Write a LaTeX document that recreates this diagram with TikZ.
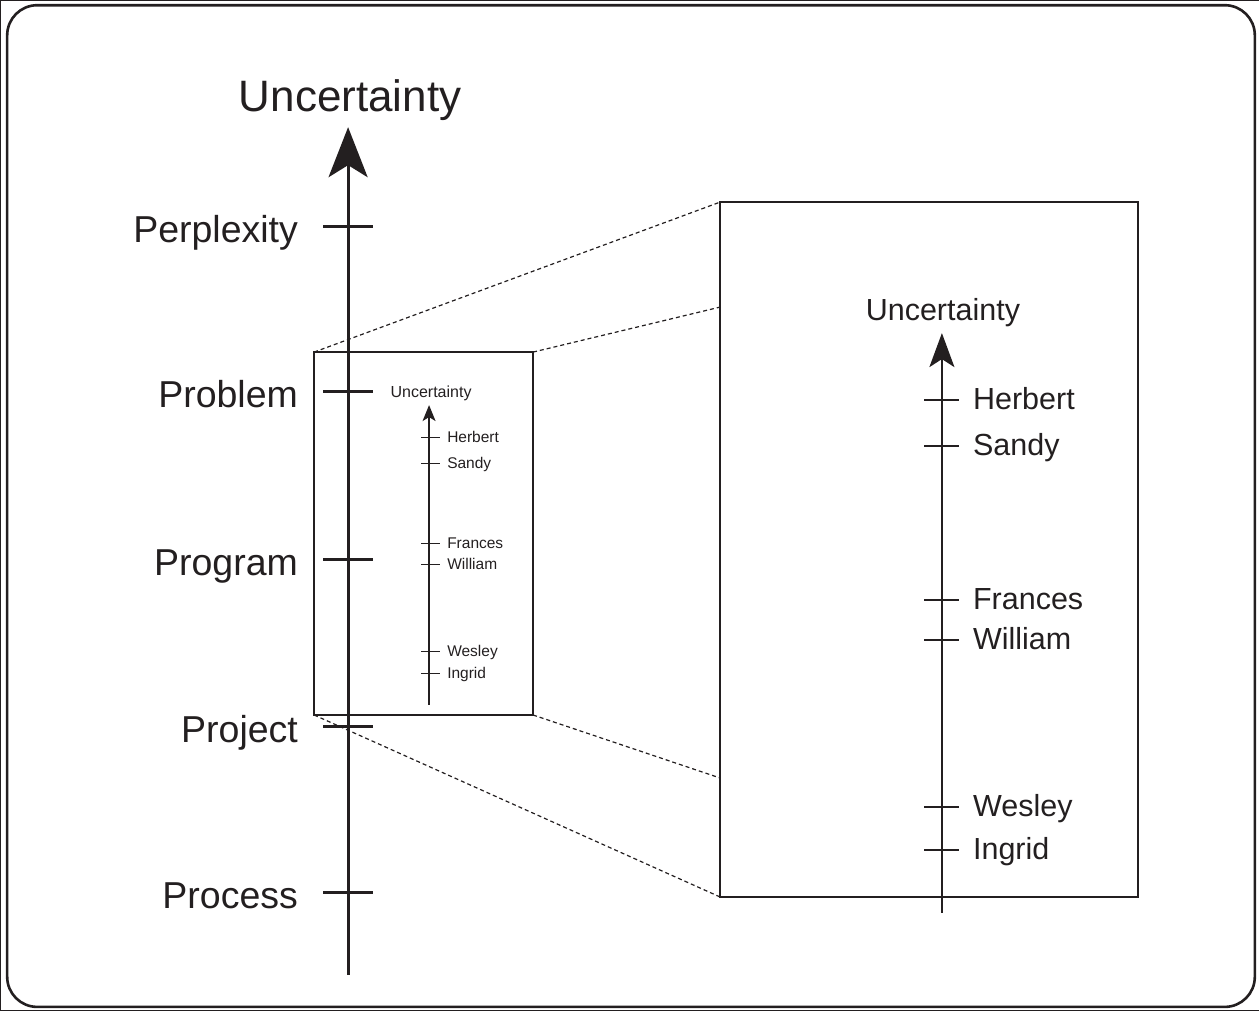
\documentclass[tikz,border=0pt]{standalone}
\usepackage{fontspec}
\setmainfont{Liberation Sans}
\usetikzlibrary{arrows.meta}
\definecolor{ink}{HTML}{231F20}
\begin{document}
\begin{tikzpicture}[x=1pt,y=-1pt, every path/.style={draw=ink}, every node/.style={text=ink},
  frame/.style={line width=2.6pt, rounded corners=30pt},
  bigaxis/.style={line width=3pt, -{Stealth[length=50pt,width=39pt,inset=12pt,fill=ink]}},
  bigtick/.style={line width=3pt},
  biglabel/.style={anchor=base east, inner sep=0pt, font=\fontsize{37.5}{40}\selectfont},
  bigtitle/.style={anchor=base, inner sep=0pt, font=\fontsize{44}{48}\selectfont},
  smallaxis/.style={line width=1.3pt, -{Stealth[length=16pt,width=13pt,inset=4pt,fill=ink]}},
  smalltick/.style={line width=1pt},
  smalllabel/.style={anchor=base west, inner sep=0pt, font=\fontsize{15.5}{17}\selectfont},
  smalltitle/.style={anchor=base, inner sep=0pt, font=\fontsize{16}{18}\selectfont},
  zoomaxis/.style={line width=2pt, -{Stealth[length=34pt,width=25pt,inset=8pt,fill=ink]}},
  zoomtick/.style={line width=2pt},
  zoomlabel/.style={anchor=base west, inner sep=0pt, font=\fontsize{30.5}{33}\selectfont},
  zoomtitle/.style={anchor=base, inner sep=0pt, font=\fontsize{30.5}{33}\selectfont},
  lens/.style={draw=ink, line width=1.4pt, inner sep=0pt, outer sep=0pt},
  guide/.style={line width=1.2pt, dash pattern=on 4pt off 3pt}
]
\useasboundingbox (0,0) rectangle (1259,1010);
\draw[frame] (7,5) rectangle (1255,1007);

% main scale
\coordinate (mainfoot) at (348,975);
\coordinate (maintip) at (348,127);
\draw[bigaxis] (mainfoot) -- (maintip);
\node[bigtitle] (maintitle) at (350,111) {Uncertainty};
\foreach \nm/\yy in {Perplexity/226, Problem/391, Program/559, Project/727, Process/893}{
  \coordinate (t\nm) at (348,\yy);
  \draw[bigtick] ([xshift=-25pt]t\nm) -- ([xshift=25pt]t\nm);
  \node[biglabel] (l\nm) at (298,\yy+16) {\nm};
}

% magnified window and its source region
\node[lens, minimum width=219pt, minimum height=363pt] (src) at (423.5,533.5) {};
\node[lens, line width=1.3pt, minimum width=418pt, minimum height=695pt] (dst) at (929,549.5) {};
\draw[guide] (src.north west) -- (dst.north west);
\draw[guide] (src.north east) -- (720,307);
\draw[guide] (src.south west) -- (dst.south west);
\draw[guide] (src.south east) -- (720,778);

% scale inside the source region
\coordinate (sfoot) at (429,705);
\coordinate (stip) at (429,405);
\draw[smallaxis] (sfoot) -- (stip);
\node[smalltitle] (stitle) at (431,397) {Uncertainty};
\foreach \nm/\yy in {Herbert/437, Sandy/463, Frances/543, William/564, Wesley/651, Ingrid/673}{
  \coordinate (s\nm) at (430.5,\yy);
  \draw[smalltick] ([xshift=-9.5pt]s\nm) -- ([xshift=9.5pt]s\nm);
  \node[smalllabel] (sl\nm) at (447,\yy+5.5) {\nm};
}

% magnified scale
\coordinate (zfoot) at (942,913);
\coordinate (ztip) at (942,333);
\draw[zoomaxis] (zfoot) -- (ztip);
\node[zoomtitle] (ztitle) at (943,320) {Uncertainty};
\foreach \nm/\yy in {Herbert/400, Sandy/446, Frances/600, William/640, Wesley/807, Ingrid/850}{
  \coordinate (z\nm) at (942,\yy);
  \draw[zoomtick] ([xshift=-17.5pt]z\nm) -- ([xshift=17.5pt]z\nm);
  \node[zoomlabel] (zl\nm) at (973,\yy+9.5) {\nm};
}
\end{tikzpicture}
\end{document}
